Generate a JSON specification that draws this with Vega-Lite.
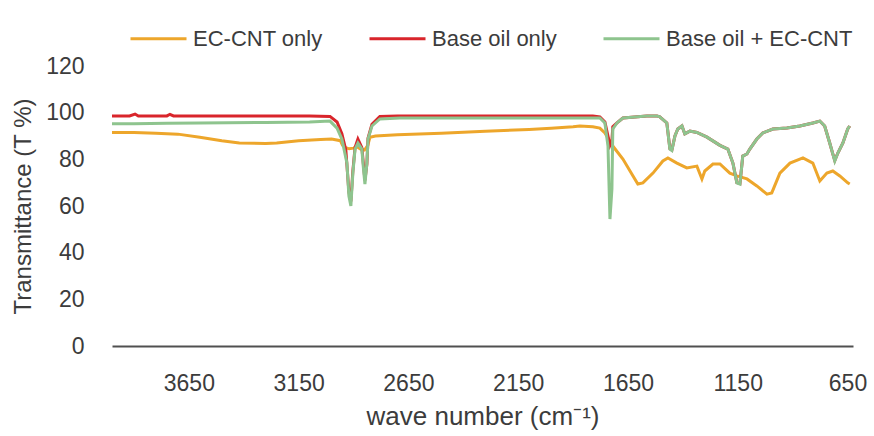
{
  "$schema": "https://vega.github.io/schema/vega-lite/v6.json",
  "width": 741,
  "height": 280,
  "autosize": "none",
  "padding": {"left": 112, "top": 66, "right": 21, "bottom": 90},
  "background": "white",
  "config": {
    "view": {"stroke": null},
    "font": "Liberation Sans"
  },
  "datasets": {
    "spec": [
      {"wn": 4000, "T": 91.5, "s": "EC-CNT only"},
      {"wn": 3900, "T": 91.5, "s": "EC-CNT only"},
      {"wn": 3800, "T": 91.2, "s": "EC-CNT only"},
      {"wn": 3700, "T": 90.8, "s": "EC-CNT only"},
      {"wn": 3600, "T": 89.5, "s": "EC-CNT only"},
      {"wn": 3500, "T": 88, "s": "EC-CNT only"},
      {"wn": 3420, "T": 87, "s": "EC-CNT only"},
      {"wn": 3300, "T": 86.8, "s": "EC-CNT only"},
      {"wn": 3250, "T": 87, "s": "EC-CNT only"},
      {"wn": 3150, "T": 88, "s": "EC-CNT only"},
      {"wn": 3050, "T": 88.5, "s": "EC-CNT only"},
      {"wn": 3000, "T": 88.7, "s": "EC-CNT only"},
      {"wn": 2960, "T": 88, "s": "EC-CNT only"},
      {"wn": 2950, "T": 86, "s": "EC-CNT only"},
      {"wn": 2935, "T": 85, "s": "EC-CNT only"},
      {"wn": 2920, "T": 84.5, "s": "EC-CNT only"},
      {"wn": 2900, "T": 84.8, "s": "EC-CNT only"},
      {"wn": 2885, "T": 85.5, "s": "EC-CNT only"},
      {"wn": 2870, "T": 84.5, "s": "EC-CNT only"},
      {"wn": 2850, "T": 84, "s": "EC-CNT only"},
      {"wn": 2835, "T": 86, "s": "EC-CNT only"},
      {"wn": 2825, "T": 89.5, "s": "EC-CNT only"},
      {"wn": 2800, "T": 90, "s": "EC-CNT only"},
      {"wn": 2700, "T": 90.5, "s": "EC-CNT only"},
      {"wn": 2500, "T": 91.2, "s": "EC-CNT only"},
      {"wn": 2300, "T": 92, "s": "EC-CNT only"},
      {"wn": 2100, "T": 92.8, "s": "EC-CNT only"},
      {"wn": 2000, "T": 93.3, "s": "EC-CNT only"},
      {"wn": 1900, "T": 94, "s": "EC-CNT only"},
      {"wn": 1869, "T": 94.3, "s": "EC-CNT only"},
      {"wn": 1810, "T": 94, "s": "EC-CNT only"},
      {"wn": 1778, "T": 93.4, "s": "EC-CNT only"},
      {"wn": 1755, "T": 91.3, "s": "EC-CNT only"},
      {"wn": 1719, "T": 85.7, "s": "EC-CNT only"},
      {"wn": 1673, "T": 80.1, "s": "EC-CNT only"},
      {"wn": 1627, "T": 72.9, "s": "EC-CNT only"},
      {"wn": 1605, "T": 69.4, "s": "EC-CNT only"},
      {"wn": 1582, "T": 69.9, "s": "EC-CNT only"},
      {"wn": 1536, "T": 74.1, "s": "EC-CNT only"},
      {"wn": 1491, "T": 79.3, "s": "EC-CNT only"},
      {"wn": 1468, "T": 80.6, "s": "EC-CNT only"},
      {"wn": 1427, "T": 78.4, "s": "EC-CNT only"},
      {"wn": 1382, "T": 76.3, "s": "EC-CNT only"},
      {"wn": 1336, "T": 77.1, "s": "EC-CNT only"},
      {"wn": 1313, "T": 71.6, "s": "EC-CNT only"},
      {"wn": 1300, "T": 75, "s": "EC-CNT only"},
      {"wn": 1263, "T": 78, "s": "EC-CNT only"},
      {"wn": 1231, "T": 78, "s": "EC-CNT only"},
      {"wn": 1186, "T": 74.1, "s": "EC-CNT only"},
      {"wn": 1154, "T": 72.9, "s": "EC-CNT only"},
      {"wn": 1108, "T": 71.6, "s": "EC-CNT only"},
      {"wn": 1063, "T": 68.6, "s": "EC-CNT only"},
      {"wn": 1017, "T": 65.1, "s": "EC-CNT only"},
      {"wn": 995, "T": 65.6, "s": "EC-CNT only"},
      {"wn": 958, "T": 74.1, "s": "EC-CNT only"},
      {"wn": 912, "T": 78.4, "s": "EC-CNT only"},
      {"wn": 853, "T": 80.6, "s": "EC-CNT only"},
      {"wn": 808, "T": 78.4, "s": "EC-CNT only"},
      {"wn": 776, "T": 70.7, "s": "EC-CNT only"},
      {"wn": 744, "T": 74.1, "s": "EC-CNT only"},
      {"wn": 717, "T": 75, "s": "EC-CNT only"},
      {"wn": 685, "T": 72.9, "s": "EC-CNT only"},
      {"wn": 649, "T": 69.9, "s": "EC-CNT only"},
      {"wn": 640, "T": 69.4, "s": "EC-CNT only"},

      {"wn": 4000, "T": 98.6, "s": "Base oil only"},
      {"wn": 3920, "T": 98.6, "s": "Base oil only"},
      {"wn": 3895, "T": 99.4, "s": "Base oil only"},
      {"wn": 3880, "T": 98.6, "s": "Base oil only"},
      {"wn": 3750, "T": 98.6, "s": "Base oil only"},
      {"wn": 3736, "T": 99.3, "s": "Base oil only"},
      {"wn": 3720, "T": 98.6, "s": "Base oil only"},
      {"wn": 3100, "T": 98.6, "s": "Base oil only"},
      {"wn": 3007, "T": 98.4, "s": "Base oil only"},
      {"wn": 2975, "T": 96, "s": "Base oil only"},
      {"wn": 2953, "T": 91, "s": "Base oil only"},
      {"wn": 2935, "T": 84, "s": "Base oil only"},
      {"wn": 2921, "T": 66, "s": "Base oil only"},
      {"wn": 2912, "T": 62, "s": "Base oil only"},
      {"wn": 2903, "T": 75, "s": "Base oil only"},
      {"wn": 2893, "T": 85, "s": "Base oil only"},
      {"wn": 2880, "T": 88.7, "s": "Base oil only"},
      {"wn": 2862, "T": 85, "s": "Base oil only"},
      {"wn": 2848, "T": 71, "s": "Base oil only"},
      {"wn": 2839, "T": 78, "s": "Base oil only"},
      {"wn": 2834, "T": 89, "s": "Base oil only"},
      {"wn": 2816, "T": 95, "s": "Base oil only"},
      {"wn": 2780, "T": 98.4, "s": "Base oil only"},
      {"wn": 2700, "T": 98.6, "s": "Base oil only"},
      {"wn": 1869, "T": 98.6, "s": "Base oil only"},
      {"wn": 1810, "T": 98.6, "s": "Base oil only"},
      {"wn": 1778, "T": 98.2, "s": "Base oil only"},
      {"wn": 1755, "T": 96, "s": "Base oil only"},
      {"wn": 1741, "T": 90, "s": "Base oil only"},
      {"wn": 1732, "T": 86, "s": "Base oil only"},
      {"wn": 1723, "T": 88, "s": "Base oil only"},
      {"wn": 1719, "T": 94, "s": "Base oil only"},
      {"wn": 1700, "T": 95.6, "s": "Base oil only"},
      {"wn": 1673, "T": 97.7, "s": "Base oil only"},
      {"wn": 1564, "T": 98.6, "s": "Base oil only"},
      {"wn": 1518, "T": 98.6, "s": "Base oil only"},
      {"wn": 1505, "T": 98.2, "s": "Base oil only"},
      {"wn": 1473, "T": 95.6, "s": "Base oil only"},
      {"wn": 1459, "T": 84.6, "s": "Base oil only"},
      {"wn": 1450, "T": 84, "s": "Base oil only"},
      {"wn": 1436, "T": 90, "s": "Base oil only"},
      {"wn": 1423, "T": 93, "s": "Base oil only"},
      {"wn": 1404, "T": 94.3, "s": "Base oil only"},
      {"wn": 1391, "T": 90.9, "s": "Base oil only"},
      {"wn": 1368, "T": 92.1, "s": "Base oil only"},
      {"wn": 1336, "T": 91.5, "s": "Base oil only"},
      {"wn": 1290, "T": 89.5, "s": "Base oil only"},
      {"wn": 1231, "T": 86, "s": "Base oil only"},
      {"wn": 1195, "T": 84.4, "s": "Base oil only"},
      {"wn": 1172, "T": 78.4, "s": "Base oil only"},
      {"wn": 1154, "T": 70, "s": "Base oil only"},
      {"wn": 1140, "T": 69.6, "s": "Base oil only"},
      {"wn": 1127, "T": 81.4, "s": "Base oil only"},
      {"wn": 1108, "T": 82.3, "s": "Base oil only"},
      {"wn": 1095, "T": 84.4, "s": "Base oil only"},
      {"wn": 1063, "T": 88.7, "s": "Base oil only"},
      {"wn": 1036, "T": 91.3, "s": "Base oil only"},
      {"wn": 990, "T": 93, "s": "Base oil only"},
      {"wn": 926, "T": 93.4, "s": "Base oil only"},
      {"wn": 867, "T": 94.3, "s": "Base oil only"},
      {"wn": 808, "T": 95.6, "s": "Base oil only"},
      {"wn": 776, "T": 96.4, "s": "Base oil only"},
      {"wn": 754, "T": 94.3, "s": "Base oil only"},
      {"wn": 731, "T": 87, "s": "Base oil only"},
      {"wn": 717, "T": 82.3, "s": "Base oil only"},
      {"wn": 708, "T": 79.5, "s": "Base oil only"},
      {"wn": 694, "T": 82.7, "s": "Base oil only"},
      {"wn": 671, "T": 87, "s": "Base oil only"},
      {"wn": 649, "T": 93, "s": "Base oil only"},
      {"wn": 640, "T": 94.3, "s": "Base oil only"},

      {"wn": 4000, "T": 95.3, "s": "Base oil + EC-CNT"},
      {"wn": 3900, "T": 95.3, "s": "Base oil + EC-CNT"},
      {"wn": 3750, "T": 95.5, "s": "Base oil + EC-CNT"},
      {"wn": 3600, "T": 95.6, "s": "Base oil + EC-CNT"},
      {"wn": 3300, "T": 95.8, "s": "Base oil + EC-CNT"},
      {"wn": 3100, "T": 96, "s": "Base oil + EC-CNT"},
      {"wn": 3007, "T": 96.4, "s": "Base oil + EC-CNT"},
      {"wn": 2975, "T": 93.4, "s": "Base oil + EC-CNT"},
      {"wn": 2953, "T": 88.7, "s": "Base oil + EC-CNT"},
      {"wn": 2930, "T": 78.4, "s": "Base oil + EC-CNT"},
      {"wn": 2921, "T": 64.3, "s": "Base oil + EC-CNT"},
      {"wn": 2912, "T": 60, "s": "Base oil + EC-CNT"},
      {"wn": 2903, "T": 74, "s": "Base oil + EC-CNT"},
      {"wn": 2893, "T": 84.4, "s": "Base oil + EC-CNT"},
      {"wn": 2880, "T": 87, "s": "Base oil + EC-CNT"},
      {"wn": 2862, "T": 84.4, "s": "Base oil + EC-CNT"},
      {"wn": 2857, "T": 78.4, "s": "Base oil + EC-CNT"},
      {"wn": 2848, "T": 69.4, "s": "Base oil + EC-CNT"},
      {"wn": 2839, "T": 78.4, "s": "Base oil + EC-CNT"},
      {"wn": 2834, "T": 88.7, "s": "Base oil + EC-CNT"},
      {"wn": 2816, "T": 94.3, "s": "Base oil + EC-CNT"},
      {"wn": 2780, "T": 97.3, "s": "Base oil + EC-CNT"},
      {"wn": 2689, "T": 97.7, "s": "Base oil + EC-CNT"},
      {"wn": 2000, "T": 97.7, "s": "Base oil + EC-CNT"},
      {"wn": 1869, "T": 97.7, "s": "Base oil + EC-CNT"},
      {"wn": 1778, "T": 97.7, "s": "Base oil + EC-CNT"},
      {"wn": 1755, "T": 95.6, "s": "Base oil + EC-CNT"},
      {"wn": 1741, "T": 85.7, "s": "Base oil + EC-CNT"},
      {"wn": 1732, "T": 54.4, "s": "Base oil + EC-CNT"},
      {"wn": 1723, "T": 67.3, "s": "Base oil + EC-CNT"},
      {"wn": 1719, "T": 93, "s": "Base oil + EC-CNT"},
      {"wn": 1700, "T": 95.6, "s": "Base oil + EC-CNT"},
      {"wn": 1673, "T": 97.7, "s": "Base oil + EC-CNT"},
      {"wn": 1564, "T": 98.6, "s": "Base oil + EC-CNT"},
      {"wn": 1518, "T": 98.6, "s": "Base oil + EC-CNT"},
      {"wn": 1505, "T": 98.2, "s": "Base oil + EC-CNT"},
      {"wn": 1473, "T": 95.6, "s": "Base oil + EC-CNT"},
      {"wn": 1459, "T": 84.4, "s": "Base oil + EC-CNT"},
      {"wn": 1450, "T": 83.8, "s": "Base oil + EC-CNT"},
      {"wn": 1436, "T": 90, "s": "Base oil + EC-CNT"},
      {"wn": 1423, "T": 93, "s": "Base oil + EC-CNT"},
      {"wn": 1404, "T": 94.3, "s": "Base oil + EC-CNT"},
      {"wn": 1391, "T": 90.9, "s": "Base oil + EC-CNT"},
      {"wn": 1368, "T": 92.1, "s": "Base oil + EC-CNT"},
      {"wn": 1336, "T": 91.5, "s": "Base oil + EC-CNT"},
      {"wn": 1290, "T": 89.5, "s": "Base oil + EC-CNT"},
      {"wn": 1231, "T": 86, "s": "Base oil + EC-CNT"},
      {"wn": 1195, "T": 84.4, "s": "Base oil + EC-CNT"},
      {"wn": 1172, "T": 78.4, "s": "Base oil + EC-CNT"},
      {"wn": 1154, "T": 69.9, "s": "Base oil + EC-CNT"},
      {"wn": 1140, "T": 69.4, "s": "Base oil + EC-CNT"},
      {"wn": 1127, "T": 81.4, "s": "Base oil + EC-CNT"},
      {"wn": 1108, "T": 82.3, "s": "Base oil + EC-CNT"},
      {"wn": 1095, "T": 84.4, "s": "Base oil + EC-CNT"},
      {"wn": 1063, "T": 88.7, "s": "Base oil + EC-CNT"},
      {"wn": 1036, "T": 91.3, "s": "Base oil + EC-CNT"},
      {"wn": 990, "T": 93, "s": "Base oil + EC-CNT"},
      {"wn": 926, "T": 93.4, "s": "Base oil + EC-CNT"},
      {"wn": 867, "T": 94.3, "s": "Base oil + EC-CNT"},
      {"wn": 808, "T": 95.6, "s": "Base oil + EC-CNT"},
      {"wn": 776, "T": 96.4, "s": "Base oil + EC-CNT"},
      {"wn": 754, "T": 94.3, "s": "Base oil + EC-CNT"},
      {"wn": 731, "T": 87, "s": "Base oil + EC-CNT"},
      {"wn": 717, "T": 82.3, "s": "Base oil + EC-CNT"},
      {"wn": 708, "T": 79.3, "s": "Base oil + EC-CNT"},
      {"wn": 694, "T": 82.7, "s": "Base oil + EC-CNT"},
      {"wn": 671, "T": 87, "s": "Base oil + EC-CNT"},
      {"wn": 649, "T": 93, "s": "Base oil + EC-CNT"},
      {"wn": 640, "T": 94.3, "s": "Base oil + EC-CNT"}
    ]
  },
  "data": {"name": "spec"},
  "encoding": {
    "x": {
      "field": "wn",
      "type": "quantitative",
      "scale": {"domain": [4000, 625], "nice": false, "zero": false},
      "axis": {
        "values": [3650, 3150, 2650, 2150, 1650, 1150, 650],
        "format": "d",
        "grid": false,
        "ticks": false,
        "domain": true,
        "domainColor": "#505050",
        "domainWidth": 2,
        "labelFontSize": 23,
        "labelColor": "#3c3c3c",
        "labelPadding": 26,
        "labelFlush": false,
        "title": "wave number (cm⁻¹)",
        "titleFontSize": 26,
        "titleFontWeight": "normal",
        "titleColor": "#3c3c3c",
        "titlePadding": 8
      }
    },
    "y": {
      "field": "T",
      "type": "quantitative",
      "scale": {"domain": [0, 120], "nice": false},
      "axis": {
        "values": [0, 20, 40, 60, 80, 100, 120],
        "grid": false,
        "ticks": false,
        "domain": false,
        "labelFontSize": 23,
        "labelColor": "#3c3c3c",
        "labelPadding": 28,
        "title": "Transmittance (T %)",
        "titleFontSize": 24,
        "titleFontWeight": "normal",
        "titleColor": "#3c3c3c",
        "titlePadding": 10
      }
    },
    "color": {
      "field": "s",
      "type": "nominal",
      "scale": {
        "domain": ["EC-CNT only", "Base oil only", "Base oil + EC-CNT"],
        "range": ["#EDA62B", "#D9252B", "#8EC48E"]
      },
      "legend": {
        "title": null,
        "orient": "none",
        "legendX": 17,
        "legendY": -57,
        "direction": "horizontal",
        "symbolType": "stroke",
        "symbolSize": 3136,
        "symbolStrokeWidth": 3,
        "labelFontSize": 22,
        "labelColor": "#3c3c3c",
        "labelOffset": 5,
        "labelLimit": 400,
        "columnPadding": 40
      }
    }
  },
  "layer": [
    {"transform": [{"filter": "datum.s === 'EC-CNT only'"}], "mark": {"type": "line", "strokeWidth": 3}},
    {"transform": [{"filter": "datum.s === 'Base oil only'"}], "mark": {"type": "line", "strokeWidth": 3}},
    {"transform": [{"filter": "datum.s === 'Base oil + EC-CNT'"}], "mark": {"type": "line", "strokeWidth": 3}}
  ]
}
